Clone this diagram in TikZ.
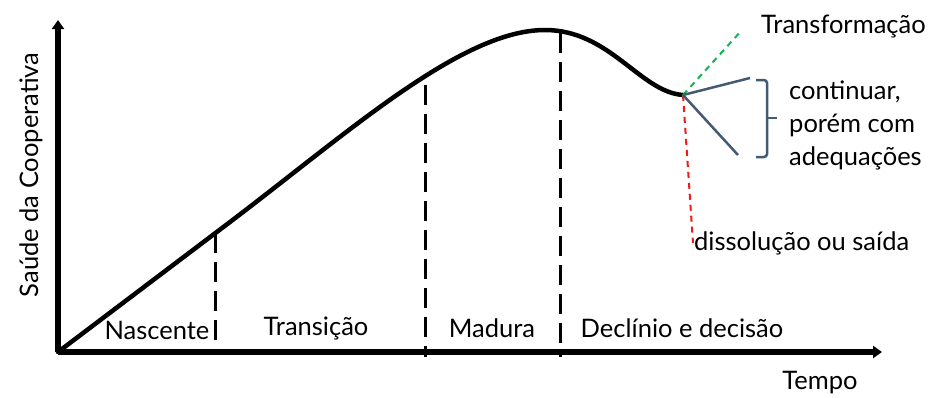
\documentclass[tikz,border=0pt]{standalone}
\usepackage{fontspec}
\setmainfont{Lato}
\usepackage{tikz}
\usetikzlibrary{positioning, arrows.meta}
\definecolor{forkblue}{RGB}{68, 90, 115}
\definecolor{forkgreen}{RGB}{20, 180, 80}
\definecolor{forkred}{RGB}{240, 25, 25}

\begin{document}
\begin{tikzpicture}[x=1pt, y=-1pt, every node/.style={font=\fontsize{25.5}{30}\selectfont, inner sep=1pt}]
      \useasboundingbox (0,0) rectangle (935,397);
      % axes
      \coordinate (o) at (58,352);
      \coordinate (ytop) at (58,20);
      \coordinate (xend) at (882,352);
      \draw[line width=6pt, -{Triangle[length=9pt, width=12pt]}] (o) -- (ytop);
      \draw[line width=6pt, -{Triangle[length=9pt, width=12pt]}] (o) -- (xend);
      % life curve
      \coordinate (fork) at (683,95);
      \draw[line width=4.5pt, line cap=round] (o) -- (230,222)
            .. controls (350,131) and (462,30) .. (545,30)
            .. controls (610,30) and (640,92) .. (fork);
      % phase borders
      \draw[line width=3pt, dash pattern=on 20pt off 9pt] (215,233) -- (215,345);
      \draw[line width=3pt, dash pattern=on 20pt off 9pt] (425,85) -- (425,357);
      \draw[line width=3pt, dash pattern=on 20pt off 9pt] (560,33) -- (560,357);
      % phase labels
      \node (n) at (157,330) {Nascente};
      \node (t) at (316,328) {Transição};
      \node (m) at (492,328) {Madura};
      \node (d) at (682,328) {Declínio e decisão};
      \node (tempo) at (820,383) {Tempo};
      \node[rotate=90] (saude) at (31,175) {Saúde da Cooperativa};
      % outcomes
      \node[anchor=west] (transf) at (760,27) {Transformação};
      \node[anchor=west] (diss) at (693,243) {dissolução ou saída};
      \node[anchor=west, align=left, font=\fontsize{25.5}{33}\selectfont] (cont) at (788,125)
            {continuar,\\porém com\\adequações};
      \draw[forkgreen, line width=2pt, dash pattern=on 6pt off 5pt] (fork) -- (742,30);
      \draw[forkred, line width=2pt, dash pattern=on 6pt off 5pt] (fork) -- (diss.west);
      \draw[forkblue, line width=2.5pt] (fork) -- (750,78);
      \draw[forkblue, line width=2.5pt] (fork) -- (738,155);
      \draw[forkblue, line width=2.5pt, rounded corners=3pt]
            (756,80) -- (767,80) -- (767,157) -- (756,157);
      \draw[forkblue, line width=2.5pt] (767,118) -- (777,118);
    \end{tikzpicture}
\end{document}
